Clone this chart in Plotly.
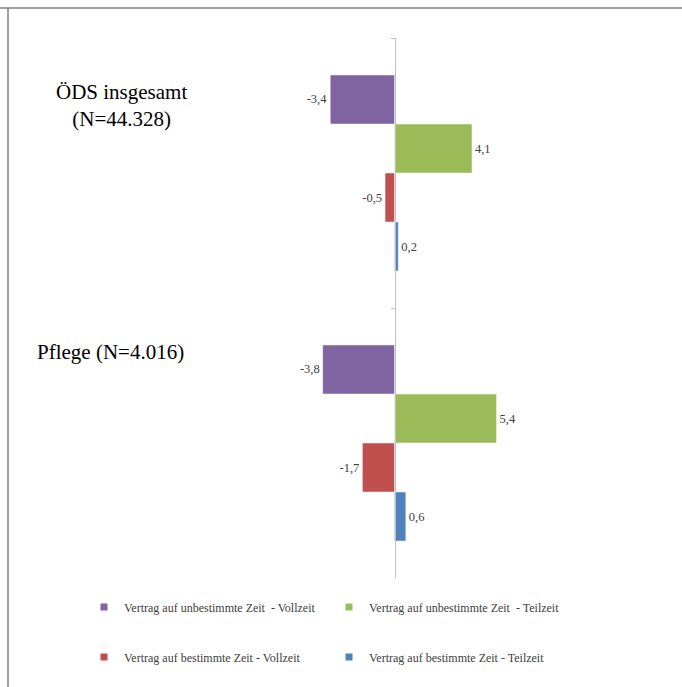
import plotly.graph_objects as go

categories = ["ÖDS insgesamt (N=44.328)", "Pflege (N=4.016)"]
series_names = [
    "Vertrag auf unbestimmte Zeit  - Vollzeit",
    "Vertrag auf unbestimmte Zeit  - Teilzeit",
    "Vertrag auf bestimmte Zeit - Vollzeit",
    "Vertrag auf bestimmte Zeit - Teilzeit",
]
unbef_voll = [-3.4, -3.8]
unbef_teil = [4.1, 5.4]
bef_voll = [-0.5, -1.7]
bef_teil = [0.2, 0.6]
series_values = [unbef_voll, unbef_teil, bef_voll, bef_teil]
colors = ["#8064A2", "#9BBB59", "#C0504D", "#4F81BD"]
legend_ids = ["legend", "legend", "legend2", "legend2"]

W, H = 682, 687
zero_px = 394.5
px_per_unit = 18.9
xr = [-zero_px / px_per_unit, (W - zero_px) / px_per_unit]

serif = "Liberation Serif"

fig = go.Figure()
for name, vals, col in zip(series_names, series_values, colors):
    fig.add_trace(go.Bar(
        y=categories, x=vals, orientation="h", name=name,
        marker=dict(color=col, line=dict(color="rgba(255,255,255,0.6)", width=0.8)),
        text=[f"{v:.1f}".replace(".", ",") for v in vals],
        textposition="outside", cliponaxis=False,
        textfont=dict(family=serif, size=12.5, color="#404040"),
        showlegend=False,
    ))

for name, col, lg in zip(series_names, colors, legend_ids):
    fig.add_trace(go.Scatter(
        x=[None], y=[None], mode="markers", name=name,
        marker=dict(symbol="square", size=7, color=col),
        legend=lg, showlegend=True,
    ))

legend_common = dict(
    orientation="h", xanchor="left", yanchor="middle",
    xref="container", yref="container",
    font=dict(family=serif, size=12, color="#404040"),
    entrywidth=200, entrywidthmode="pixels", itemwidth=30,
    bgcolor="rgba(0,0,0,0)",
)

fig.update_layout(
    width=W, height=H,
    font=dict(family=serif),
    margin=dict(l=0, r=0, t=38, b=109),
    paper_bgcolor="white", plot_bgcolor="white",
    barmode="group", bargap=0.274, bargroupgap=0,
    showlegend=True,
    xaxis=dict(range=xr, visible=False, fixedrange=True),
    yaxis=dict(
        autorange="reversed", anchor="free", position=zero_px / W,
        showline=True, linecolor="#BFBFBF", linewidth=1,
        ticks="outside", ticklen=4, tickcolor="#BFBFBF", tickson="boundaries",
        showticklabels=False, showgrid=False, zeroline=False,
    ),
    legend=dict(legend_common, x=84 / W, y=(H - 607) / H),
    legend2=dict(legend_common, x=84 / W, y=(H - 657) / H),
    annotations=[
        dict(text="ÖDS insgesamt<br>(N=44.328)", xref="paper", yref="paper",
             x=121 / W, y=1 - (105 - 38) / 540, showarrow=False,
             xanchor="center", yanchor="middle",
             font=dict(family=serif, size=21, color="#000000")),
        dict(text="Pflege (N=4.016)", xref="paper", yref="paper",
             x=110 / W, y=1 - (352 - 38) / 540, showarrow=False,
             xanchor="center", yanchor="middle",
             font=dict(family=serif, size=21, color="#000000")),
    ],
    shapes=[
        dict(type="line", xref="paper", yref="paper",
             x0=-1, x1=2, y0=1 + (38 - 8) / 540, y1=1 + (38 - 8) / 540,
             line=dict(color="#7F7F7F", width=1.5)),
        dict(type="line", xref="paper", yref="paper",
             x0=8 / W, x1=8 / W, y0=1 + (38 - 8) / 540, y1=-1,
             line=dict(color="#7F7F7F", width=1.5)),
    ],
)

fig.write_html("out.html")
